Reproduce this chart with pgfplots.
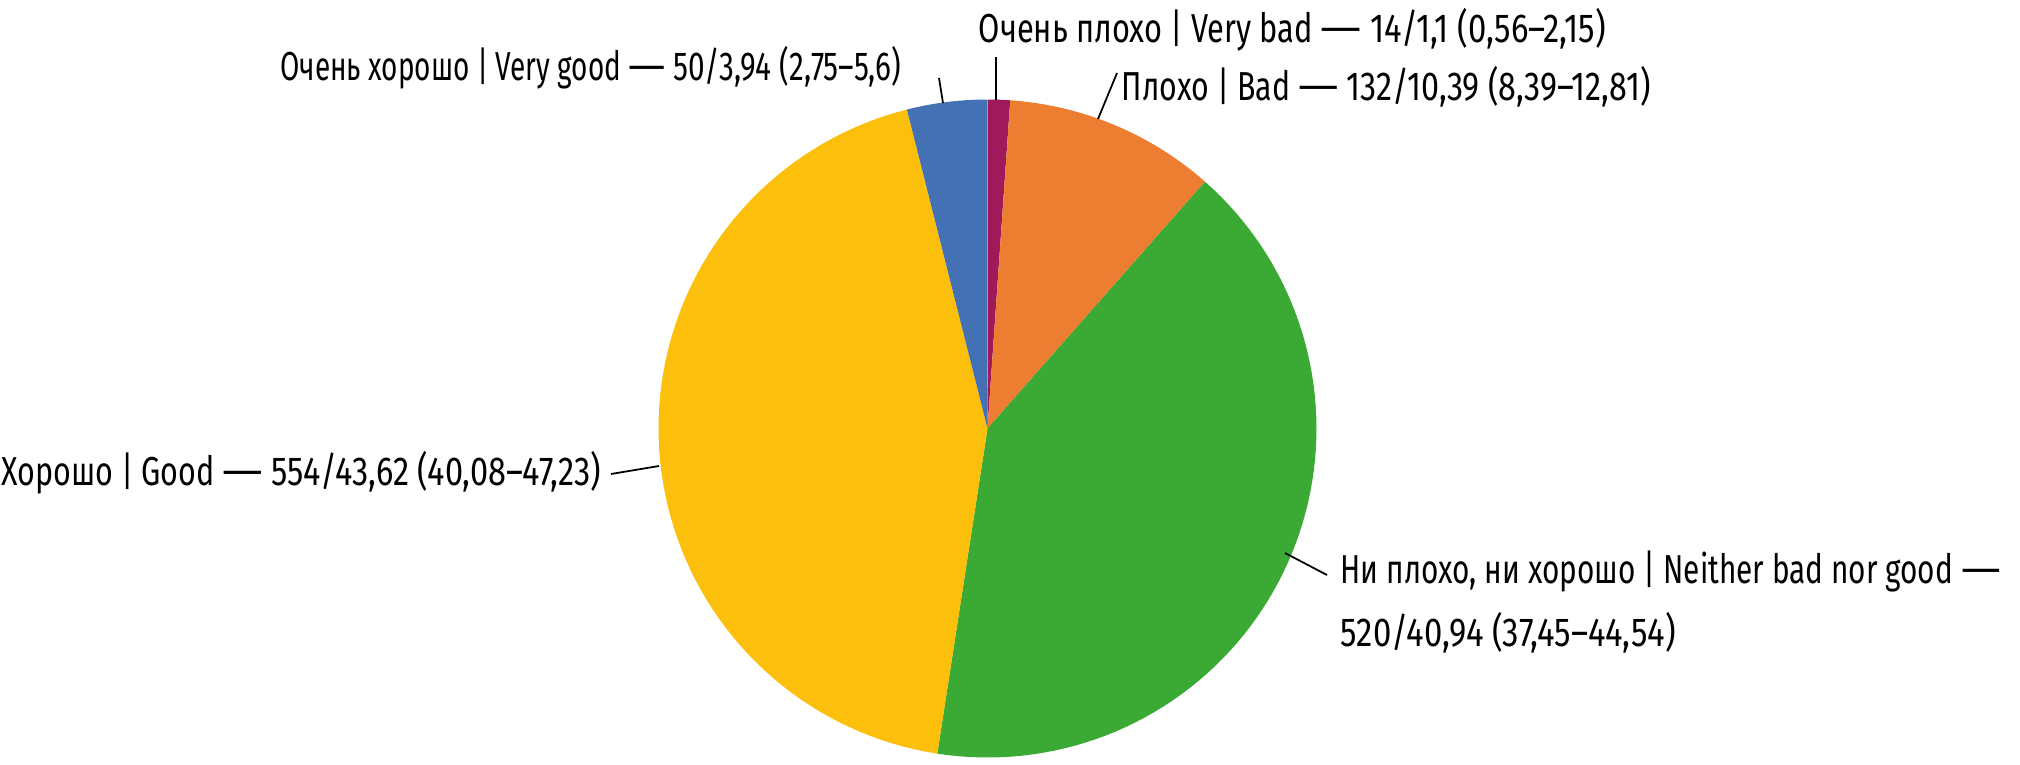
\documentclass[border=0pt]{standalone}
\usepackage{pgfplots}
\pgfplotsset{compat=1.18}
\usepackage{pgfplotstable}
\usepackage{graphicx}
\usepackage{fontspec}
\setmainfont{Fira Sans}[FakeStretch=0.76]
\newfontfamily\numfont{Fira Sans}[FakeStretch=0.81]
\newcommand\dash{\resizebox{0.41cm}{\height}{—}}
\newcommand\fit[2]{\resizebox{#1}{\height}{#2}}

\definecolor{cVeryBad}{RGB}{160,25,90}
\definecolor{cBad}{RGB}{237,125,49}
\definecolor{cNeither}{RGB}{59,170,53}
\definecolor{cGood}{RGB}{251,191,12}
\definecolor{cVeryGood}{RGB}{68,112,180}

% answers, counts
\pgfplotstableread{
answer   count
VeryBad  14
Bad      132
Neither  520
Good     554
VeryGood 50
}\answers

\newcommand\getcount[2]{\pgfplotstablegetelem{#1}{count}\of\answers\edef#2{\pgfplotsretval}}

\begin{document}
\begin{tikzpicture}
\useasboundingbox (0,0) rectangle (20.2,7.64);
\getcount{0}\cA \getcount{1}\cB \getcount{2}\cC \getcount{3}\cD \getcount{4}\cE
\pgfmathsetmacro\tot{\cA+\cB+\cC+\cD+\cE}
\pgfmathsetmacro\tA{90}
\pgfmathsetmacro\tB{\tA-360*(\cA/\tot)}
\pgfmathsetmacro\tC{\tB-360*(\cB/\tot)}
\pgfmathsetmacro\tD{\tC-360*(\cC/\tot)}
\pgfmathsetmacro\tE{\tD-360*(\cD/\tot)}
\pgfmathsetmacro\tF{\tE-360*(\cE/\tot)}
\begin{axis}[
    at={(9.875cm,3.355cm)}, anchor=center,
    scale only axis, width=6.58cm, height=6.58cm,
    xmin=-1, xmax=1, ymin=-1, ymax=1,
    hide axis, clip=false,
    data cs=polar, samples=80]
\addplot[draw=none, fill=cVeryBad, domain=\tB:\tA] ({x},{1}) -- (axis cs:0,0) -- cycle;
\addplot[draw=none, fill=cBad, domain=\tC:\tB] ({x},{1}) -- (axis cs:0,0) -- cycle;
\addplot[draw=none, fill=cNeither, domain=\tD:\tC] ({x},{1}) -- (axis cs:0,0) -- cycle;
\addplot[draw=none, fill=cGood, domain=\tE:\tD] ({x},{1}) -- (axis cs:0,0) -- cycle;
\addplot[draw=none, fill=cVeryGood, domain=\tF:\tE] ({x},{1}) -- (axis cs:0,0) -- cycle;
\end{axis}

% leader lines
\draw[line width=0.5pt] (9.96,7.07) -- (9.96,6.64);
\draw[line width=0.5pt] (9.39,6.86) -- (9.43,6.61);
\draw[line width=0.5pt] (11.17,6.91) -- (10.98,6.45);
\draw[line width=0.5pt] (6.11,2.90) -- (6.59,2.98);
\draw[line width=0.5pt] (13.27,1.89) -- (12.85,2.11);

% labels
\begin{scope}[every node/.style={inner sep=0pt, font=\fontsize{11.5}{14}\selectfont}]
\node[anchor=base west] at (9.78,7.22) {\fit{6.27cm}{Очень плохо | Very bad \dash\ {\numfont 14/1,1 (0,56–2,15)}}};
\node[anchor=base east] at (9.02,6.84) {\fit{6.21cm}{Очень хорошо | Very good \dash\ {\numfont 50/3,94 (2,75–5,6)}}};
\node[anchor=base west] at (11.21,6.64) {\fit{5.29cm}{Плохо | Bad \dash\ {\numfont 132/10,39 (8,39–12,81)}}};
\node[anchor=base east] at (6.02,2.79) {\fit{6.00cm}{Хорошо | Good \dash\ {\numfont 554/43,62 (40,08–47,23)}}};
\node[anchor=base west] at (13.40,1.81) {\fit{6.60cm}{Ни плохо, ни хорошо | Neither bad nor good \dash}};
\node[anchor=base west] at (13.40,1.18) {\fit{3.35cm}{\numfont 520/40,94 (37,45–44,54)}};
\end{scope}
\end{tikzpicture}
\end{document}
